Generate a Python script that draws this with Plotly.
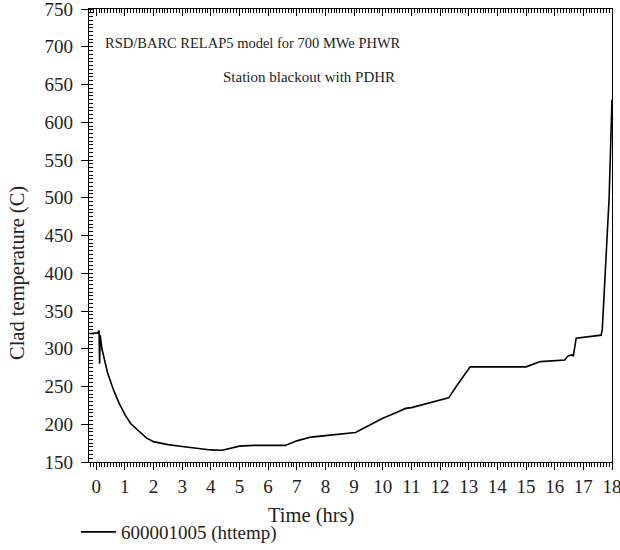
import plotly.graph_objects as go

# Time (hrs) and clad temperature (C)
time_hrs = [-0.2, 0.05, 0.1, 0.12, 0.14, 0.2, 0.4, 0.6, 0.8, 1.0, 1.2, 1.5, 1.75, 2.0, 2.5,
            3.0, 3.5, 4.0, 4.4, 4.6, 5.0, 5.5, 6.0, 6.6, 7.0, 7.5, 8.0, 9.05, 9.5, 10.0,
            10.5, 10.8, 11.0, 12.3, 12.6, 13.05, 15.0, 15.2, 15.5, 16.35, 16.45, 16.6,
            16.65, 16.75, 17.5, 17.62, 17.66, 17.9, 18.0]
clad_temp = [320, 321, 324, 280, 318, 300, 268, 246, 228, 213, 201, 190, 182, 177, 173,
             170.5, 168.5, 166, 165.5, 167, 171, 172, 172, 172, 178, 183, 185, 189, 198, 208,
             216, 221, 222, 235, 252, 276, 276, 279, 283, 285, 290, 292,
             290, 314, 317, 318, 325, 500, 630]

series_name = "600001005 (httemp)"
x_title = "Time (hrs)"
y_title = "Clad temperature (C)"
x_ticks = list(range(0, 19))
y_ticks = list(range(150, 751, 50))

FONT = "Liberation Serif"
TXT = "#222"
W, H = 620, 550
ml, mr, mt, mb = 89, 8, 9, 88
plot_w = W - ml - mr
plot_h = H - mt - mb


def px_x(px):
    return (px - ml) / plot_w


def px_y(py):
    return 1 - (py - mt) / plot_h


fig = go.Figure()
fig.add_trace(go.Scatter(x=time_hrs, y=clad_temp, mode="lines", name=series_name,
                         line=dict(color="black", width=1.6)))
fig.add_trace(go.Scatter(x=[None], y=[None], xaxis="x2", yaxis="y", showlegend=False,
                         hoverinfo="skip"))

fig.update_layout(
    width=W, height=H,
    margin=dict(l=ml, r=mr, t=mt, b=mb, autoexpand=False),
    paper_bgcolor="white", plot_bgcolor="white",
    font=dict(family=FONT, size=19, color=TXT),
    showlegend=True,
    legend=dict(orientation="h", x=-0.025, xanchor="left", y=-70 / plot_h, yanchor="middle",
                font=dict(family=FONT, size=19, color=TXT), itemwidth=35,
                bgcolor="rgba(0,0,0,0)", borderwidth=0, tracegroupgap=0),
    xaxis=dict(range=[-0.25, 18], tickmode="array", tickvals=x_ticks,
               ticklabeloverflow="allow",
               showgrid=False, zeroline=False, showline=True, linecolor="black", linewidth=1.3,
               ticks="outside", ticklen=7, tickcolor="black", tickwidth=1.2,
               minor=dict(dtick=0.1, ticks="outside", ticklen=4, tickcolor="black", tickwidth=1),
               mirror=True),
    xaxis2=dict(range=[-0.25, 18], overlaying="x", side="top", anchor="y",
                tickmode="array", tickvals=x_ticks, showticklabels=False,
                showgrid=False, zeroline=False, showline=True, linecolor="black", linewidth=1.3,
                ticks="inside", ticklen=7, tickcolor="black", tickwidth=1.2,
                minor=dict(dtick=0.1, ticks="inside", ticklen=4, tickcolor="black", tickwidth=1)),
    yaxis=dict(range=[150, 750], tickmode="array", tickvals=y_ticks,
               ticklabeloverflow="allow", ticklabelstandoff=4,
               showgrid=False, zeroline=False, showline=True, linecolor="black", linewidth=1.3,
               ticks="outside", ticklen=7, tickcolor="black", tickwidth=1.2,
               minor=dict(dtick=5, ticks="inside", ticklen=4, tickcolor="black", tickwidth=1),
               mirror=True),
)

# axis titles, centred on the whole figure as in the reference
fig.add_annotation(text=x_title, xref="paper", yref="paper", x=px_x(311), y=px_y(515),
                   xanchor="center", yanchor="middle", showarrow=False,
                   font=dict(family=FONT, size=20.5, color=TXT))
fig.add_annotation(text=y_title, xref="paper", yref="paper", x=px_x(17), y=px_y(273),
                   xanchor="center", yanchor="middle", textangle=-90, showarrow=False,
                   font=dict(family=FONT, size=20.5, color=TXT))

fig.add_annotation(text="RSD/BARC RELAP5 model for 700 MWe PHWR", xref="paper", yref="paper",
                   x=px_x(103), y=px_y(43), xanchor="left", yanchor="middle",
                   showarrow=False, font=dict(family=FONT, size=14.5, color=TXT))
fig.add_annotation(text="Station blackout with PDHR", xref="paper", yref="paper",
                   x=px_x(397), y=px_y(77), xanchor="right",
                   yanchor="middle", showarrow=False, font=dict(family=FONT, size=15, color=TXT))

fig.write_html("out.html")
